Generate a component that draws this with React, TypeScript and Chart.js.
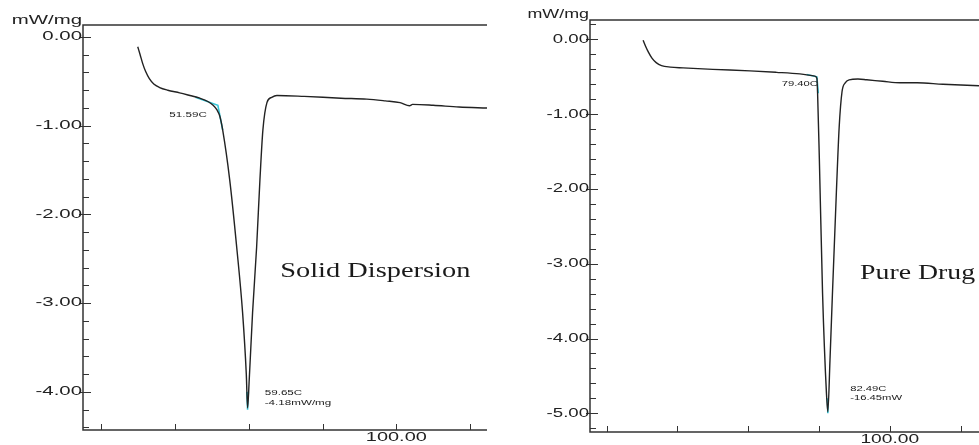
import React, { useEffect, useRef } from 'react';
import { Chart, registerables } from 'chart.js';

Chart.register(...registerables);

// ---------- Solid Dispersion (left panel) ----------
const sdTemp = [29.85, 30.5, 31.2, 32.0, 33.0, 34.2, 35.8, 38.0, 41.2, 44, 46.7, 49, 50.3, 51.3, 52.1, 52.9, 54.8, 56.7, 58.3, 59.3, 59.65, 60.1, 61.0, 62.1, 63.0, 63.8, 64.9, 66.2, 67.6, 75, 85, 92, 97, 101, 103.6, 104.4, 110, 117, 124.6];
const sdHeat = [-0.11, -0.20, -0.30, -0.39, -0.47, -0.53, -0.57, -0.60, -0.63, -0.66, -0.69, -0.73, -0.77, -0.82, -0.89, -1.05, -1.61, -2.37, -3.11, -3.80, -4.18, -3.86, -3.11, -2.37, -1.61, -1.05, -0.74, -0.68, -0.66, -0.67, -0.69, -0.70, -0.72, -0.74, -0.775, -0.76, -0.77, -0.79, -0.80];
const sdOnsetTemp = [45.5, 51.59, 52.9];
const sdOnsetHeat = [-0.68, -0.77, -1.05];
const sdPeakTemp = [59.45, 59.65, 59.85];
const sdPeakHeat = [-4.0, -4.2, -4.0];
const sdYLabels = [0, -1, -2, -3, -4];

// ---------- Pure Drug (right panel) ----------
const pdTemp = [30.3, 31.0, 31.8, 32.8, 34.0, 35.5, 38.0, 41.6, 50, 60.5, 68, 74.6, 78.8, 79.4, 79.6, 80.1, 81.0, 82.1, 82.49, 83.1, 83.8, 84.9, 85.7, 86.5, 87.4, 88.5, 91.0, 93.5, 98, 102.9, 107.7, 115, 125.2];
const pdHeat = [-0.01, -0.09, -0.17, -0.25, -0.31, -0.35, -0.37, -0.38, -0.40, -0.42, -0.44, -0.46, -0.49, -0.52, -0.72, -1.61, -3.39, -4.73, -4.98, -4.29, -3.39, -2.05, -1.17, -0.70, -0.58, -0.54, -0.53, -0.54, -0.56, -0.58, -0.58, -0.60, -0.62];
const pdOnsetTemp = [76.5, 79.4, 79.8];
const pdOnsetHeat = [-0.47, -0.50, -0.72];
const pdPeakTemp = [82.38, 82.49, 82.6];
const pdPeakHeat = [-4.8, -5.0, -4.8];
const pdYLabels = [0, -1, -2, -3, -4, -5];

// ---------- shared ticks ----------
const xTickValues = [20, 40, 60, 80, 100, 120];
const xLabelValues = [100];
const unitLabel = 'mW/mg';

type Note = { text: string; t: number; v: number; align: CanvasTextAlign; font: string; sx: number };

type PanelProps = {
  left: number;
  width: number;
  temp: number[];
  heat: number[];
  cyan: { t: number[]; h: number[] }[];
  xMin: number; xMax: number; yMin: number; yMax: number;
  padTop: number; padRight: number; axisW: number; axisH: number;
  yLabels: number[];
  tickSx: number; unitSx: number; xLabSx: number; unitY: number;
  notes: Note[];
};

function sText(ctx: CanvasRenderingContext2D, text: string, x: number, y: number, sx: number, align: CanvasTextAlign, font: string, color: string) {
  ctx.save();
  ctx.font = font;
  ctx.fillStyle = color;
  ctx.textAlign = align;
  ctx.textBaseline = 'middle';
  ctx.translate(x, y);
  ctx.scale(sx, 1);
  ctx.fillText(text, 0, 0);
  ctx.restore();
}

function Panel(p: PanelProps) {
  const ref = useRef<HTMLCanvasElement | null>(null);
  useEffect(() => {
    if (!ref.current) return;
    const decor = {
      id: 'decor',
      afterDatasetsDraw(chart: any) {
        const { ctx, chartArea: a, scales } = chart;
        const x = scales.x, y = scales.y;
        ctx.save();
        ctx.strokeStyle = '#333';
        ctx.lineWidth = 1.5;
        ctx.beginPath();
        ctx.moveTo(a.right, a.top); ctx.lineTo(a.left, a.top);
        ctx.lineTo(a.left, a.bottom); ctx.lineTo(a.right, a.bottom);
        ctx.stroke();
        ctx.lineWidth = 1;
        for (let k = Math.ceil(p.yMin * 5 - 1e-6); k <= Math.floor(p.yMax * 5 + 1e-6); k++) {
          const py = Math.round(y.getPixelForValue(k / 5)) + 0.5;
          const major = k % 5 === 0;
          ctx.beginPath();
          ctx.moveTo(a.left - (major ? 4 : 0), py);
          ctx.lineTo(a.left + (major ? 8 : 6), py);
          ctx.stroke();
        }
        xTickValues.forEach((v) => {
          const px = Math.round(x.getPixelForValue(v)) + 0.5;
          ctx.beginPath();
          ctx.moveTo(px, a.bottom);
          ctx.lineTo(px, a.bottom - 6);
          ctx.stroke();
        });
        const tf = '12px "Liberation Sans", Arial, sans-serif';
        p.yLabels.forEach((v) => {
          sText(ctx, v.toFixed(2), a.left - 1, y.getPixelForValue(v), p.tickSx, 'right', tf, '#222');
        });
        xLabelValues.forEach((v) => {
          sText(ctx, v.toFixed(2), x.getPixelForValue(v), a.bottom + 8, p.xLabSx, 'center', tf, '#222');
        });
        sText(ctx, unitLabel, a.left - 1, p.unitY, p.unitSx, 'right', tf, '#222');
        p.notes.forEach((n) => {
          sText(ctx, n.text, x.getPixelForValue(n.t), y.getPixelForValue(n.v), n.sx, n.align, n.font, '#1a1a1a');
        });
        ctx.restore();
      },
    };
    const datasets: any[] = [
      {
        data: p.temp.map((t, i) => ({ x: t, y: p.heat[i] })),
        borderColor: '#222',
        borderWidth: 1.4,
        pointRadius: 0,
        cubicInterpolationMode: 'monotone',
        fill: false,
      },
      ...p.cyan.map((c) => ({
        data: c.t.map((t, i) => ({ x: t, y: c.h[i] })),
        borderColor: '#36c6d8',
        borderWidth: 1.6,
        pointRadius: 0,
        tension: 0,
        fill: false,
      })),
    ];
    const chart = new Chart(ref.current, {
      type: 'line',
      data: { datasets },
      options: {
        animation: false,
        responsive: false,
        maintainAspectRatio: false,
        layout: { padding: { top: p.padTop, right: p.padRight, left: 0, bottom: 0 } },
        plugins: { legend: { display: false }, tooltip: { enabled: false }, title: { display: false } },
        scales: {
          x: {
            type: 'linear', min: p.xMin, max: p.xMax,
            ticks: { display: false }, grid: { display: false }, border: { display: false },
            afterFit: (s: any) => { s.height = p.axisH; },
          },
          y: {
            type: 'linear', min: p.yMin, max: p.yMax,
            ticks: { display: false }, grid: { display: false }, border: { display: false },
            afterFit: (s: any) => { s.width = p.axisW; },
          },
        },
      } as any,
      plugins: [decor],
    });
    return () => chart.destroy();
  }, []);
  return (
    <div style={{ position: 'absolute', left: p.left, top: 0, width: p.width, height: 445 }}>
      <canvas ref={ref} width={p.width} height={445} style={{ width: p.width, height: 445, display: 'block' }} />
    </div>
  );
}

const small = '7.5px "Liberation Sans", Arial, sans-serif';
const big = '20px "Liberation Serif", "Times New Roman", serif';

export default function App() {
  return (
    <div style={{ position: 'fixed', left: 0, top: 0, width: 979, height: 445, background: '#fff', overflow: 'hidden' }}>
      <Panel
        left={0} width={495}
        temp={sdTemp} heat={sdHeat}
        cyan={[{ t: sdOnsetTemp, h: sdOnsetHeat }, { t: sdPeakTemp, h: sdPeakHeat }]}
        xMin={15.0} xMax={124.6} yMin={-4.43} yMax={0.135}
        padTop={25} padRight={8} axisW={83} axisH={15}
        yLabels={sdYLabels}
        tickSx={1.7} unitSx={1.7} xLabSx={1.66} unitY={21}
        notes={[
          { text: '51.59C', t: 48.6, v: -0.88, align: 'right', font: small, sx: 1.55 },
          { text: '59.65C', t: 64.3, v: -4.01, align: 'left', font: small, sx: 1.55 },
          { text: '-4.18mW/mg', t: 64.3, v: -4.13, align: 'left', font: small, sx: 1.55 },
          { text: 'Solid Dispersion', t: 68.5, v: -2.65, align: 'left', font: big, sx: 1.42 },
        ]}
      />
      <Panel
        left={495} width={484}
        temp={pdTemp} heat={pdHeat}
        cyan={[{ t: pdOnsetTemp, h: pdOnsetHeat }, { t: pdPeakTemp, h: pdPeakHeat }]}
        xMin={15.3} xMax={125.2} yMin={-5.25} yMax={0.26}
        padTop={20} padRight={0} axisW={95} axisH={13}
        yLabels={pdYLabels}
        tickSx={1.55} unitSx={1.49} xLabSx={1.6} unitY={15}
        notes={[
          { text: '79.40C', t: 79.7, v: -0.60, align: 'right', font: small, sx: 1.5 },
          { text: '82.49C', t: 88.8, v: -4.68, align: 'left', font: small, sx: 1.5 },
          { text: '-16.45mW', t: 88.8, v: -4.80, align: 'left', font: small, sx: 1.5 },
          { text: 'Pure Drug', t: 91.6, v: -3.13, align: 'left', font: big, sx: 1.39 },
        ]}
      />
    </div>
  );
}
